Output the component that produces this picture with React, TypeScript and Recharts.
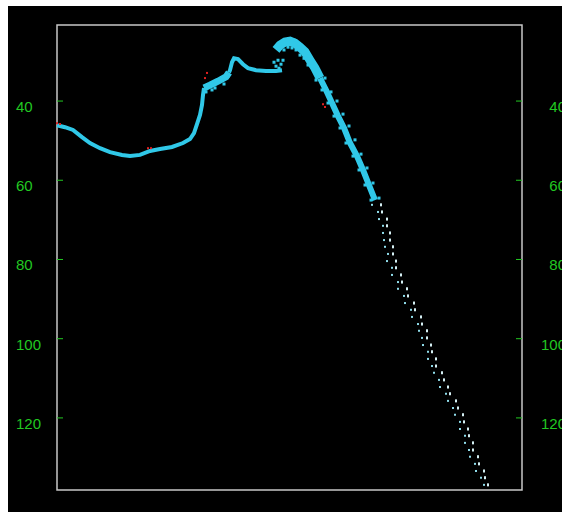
import React from 'react';
import { ScatterChart, Scatter, XAxis, YAxis, ReferenceArea } from 'recharts';

const GREEN = '#22c822';
const CYAN = '#30c8e8';
const TAIL_A = '#8fdcea';
const TAIL_B = '#d4eff3';
const RED = '#e02020';

const yTicks = [40, 60, 80, 100, 120];

// main cyan curve (left bowl, steep rise)
const mainX = [0, 8, 16, 25, 33, 43, 53, 65, 73, 83, 93, 103, 115, 126, 133, 137, 140, 143, 145, 146, 147];
const mainY = [46.1, 46.6, 47.3, 49.1, 50.6, 51.9, 52.9, 53.6, 53.9, 53.6, 52.6, 52.1, 51.6, 50.6, 49.6, 48.1, 45.8, 43.5, 41.0, 38.5, 36.7];

// shoulder band
const shoulderX = [147, 153, 161, 169, 172];
const shoulderY = [36.7, 36.0, 35.0, 33.9, 32.8];

// first peak and flat part
const flatX = [172, 173, 175, 177, 181, 186, 191, 199, 209, 219, 225];
const flatY = [32.8, 32.2, 30.2, 29.2, 29.4, 30.7, 31.7, 32.2, 32.4, 32.4, 32.2];

// second peak top
const peakX = [219, 223, 228, 233, 238, 243, 248, 253, 258, 263];
const peakY = [27.1, 25.9, 25.1, 24.9, 25.4, 26.4, 27.6, 29.7, 31.7, 34.2];

// upper descent
const descentX = [263, 269, 275, 281, 287, 293, 300, 306, 312, 318];
const descentY = [34.2, 37.2, 40.5, 43.8, 46.8, 50.6, 53.9, 57.4, 61.2, 65.0];

// scattered cyan dots
const dotX = [221, 225, 229, 233, 237, 241, 245, 231, 235, 239, 227, 243, 247, 249, 252, 255, 251, 259, 217, 221, 224, 219, 226, 222, 259, 268, 265, 274, 271, 280, 277, 286, 283, 292, 289, 298, 296, 304, 302, 310, 308, 316, 314, 322, 149, 153, 158, 163, 167, 171, 155];
const dotY = [26.6, 25.6, 24.6, 24.4, 24.6, 25.6, 26.9, 26.4, 26.6, 27.1, 27.1, 28.4, 29.2, 27.1, 28.6, 30.4, 30.9, 32.7, 30.2, 29.7, 30.7, 31.2, 29.7, 31.7, 34.7, 34.2, 37.2, 37.7, 40.5, 40.0, 43.8, 43.3, 46.8, 46.3, 50.6, 49.8, 53.9, 53.4, 57.4, 56.9, 61.2, 60.7, 65.0, 64.5, 37.7, 35.7, 36.7, 34.7, 35.7, 33.7, 37.2];

// sparse tail dots (two strands)
const tailY = [66.2, 68.0, 69.8, 71.5, 73.3, 75.1, 76.8, 78.6, 80.4, 82.1, 83.9, 85.7, 87.4, 89.2, 91.0, 92.7, 94.5, 96.3, 98.0, 99.8, 101.6, 103.3, 105.1, 106.9, 108.6, 110.4, 112.2, 113.9, 115.7, 117.5, 119.2, 121.0, 122.8, 124.5, 126.3, 128.1, 129.8, 131.6, 133.4, 135.1, 136.9];
const tailXLeft = [315, 321, 322, 326, 326, 327, 328, 331, 330, 335, 335, 341, 341, 347, 348, 354, 355, 361, 362, 365, 366, 371, 371, 375, 377, 382, 383, 389, 391, 396, 398, 403, 403, 408, 408, 412, 413, 418, 419, 424, 427];
const tailXRight = [324, 325, 330, 330, 333, 333, 336, 336, 339, 339, 344, 345, 350, 351, 357, 358, 364, 365, 370, 370, 374, 375, 379, 379, 385, 387, 391, 393, 399, 401, 406, 407, 411, 412, 416, 416, 421, 422, 427, 428, 431];

// red dots
const redX = [0, 3, 91, 94, 148, 150, 266, 268];
const redY = [45.6, 45.8, 51.9, 51.9, 34.2, 32.9, 40.8, 41.5];

const pts = (xs: number[], ys: number[]) => xs.map((x, i) => ({ x, y: ys[i] }));

const mainData = pts(mainX, mainY);
const shoulderData = pts(shoulderX, shoulderY);
const flatData = pts(flatX, flatY);
const peakData = pts(peakX, peakY);
const descentData = pts(descentX, descentY);
const dotData = pts(dotX, dotY);
const tailDataA = pts(tailXLeft, tailY);
const tailDataB = pts(tailXRight, tailY);
const redData = pts(redX, redY);

const Nothing = () => <g />;
const dot = (color: string, w: number, h: number) => (p: any) => (
  <rect x={p.cx - w / 2} y={p.cy - h / 2} width={w} height={h} fill={color} />
);

const LeftTick = (props: any) => {
  const { x, y, payload } = props;
  return (
    <g>
      <line x1={x} y1={y} x2={x + 6} y2={y} stroke={GREEN} strokeWidth={1} />
      <text x={x - 41} y={y + 11} fill={GREEN} fontSize={15} fontFamily="Liberation Sans" textAnchor="start">
        {payload.value}
      </text>
    </g>
  );
};

const RightTick = (props: any) => {
  const { x, y, payload } = props;
  return (
    <g>
      <line x1={x - 6} y1={y} x2={x} y2={y} stroke={GREEN} strokeWidth={1} />
      <text x={x + 44} y={y + 11} fill={GREEN} fontSize={15} fontFamily="Liberation Sans" textAnchor="end">
        {payload.value}
      </text>
    </g>
  );
};

const Y_DOMAIN: [number, number] = [20.8, 138.2];

export default function App() {
  return (
    <div style={{ position: 'absolute', left: 8, top: 6, width: 554, height: 506, background: '#000', overflow: 'hidden' }}>
      <ScatterChart width={554} height={506} margin={{ top: 19, right: 0, bottom: 22, left: 0 }}>
        <XAxis type="number" dataKey="x" domain={[0, 465]} hide xAxisId={0} />
        <YAxis
          yAxisId="left"
          type="number"
          dataKey="y"
          domain={Y_DOMAIN}
          reversed
          ticks={yTicks}
          width={49}
          axisLine={false}
          tickLine={false}
          tickSize={0}
          tickMargin={0}
          tick={<LeftTick />}
          allowDataOverflow
        />
        <YAxis
          yAxisId="right"
          orientation="right"
          type="number"
          dataKey="y"
          domain={Y_DOMAIN}
          reversed
          ticks={yTicks}
          width={40}
          axisLine={false}
          tickLine={false}
          tickSize={0}
          tickMargin={0}
          tick={<RightTick />}
          allowDataOverflow
        />
        <ReferenceArea xAxisId={0} yAxisId="left" x1={0} x2={465} y1={Y_DOMAIN[0]} y2={Y_DOMAIN[1]} fill="none" stroke="#c8c8c8" strokeWidth={1.5} />
        <Scatter yAxisId="left" data={mainData} line={{ stroke: CYAN, strokeWidth: 4 }} lineType="joint" shape={<Nothing />} isAnimationActive={false} />
        <Scatter yAxisId="left" data={shoulderData} line={{ stroke: CYAN, strokeWidth: 7 }} lineType="joint" shape={<Nothing />} isAnimationActive={false} />
        <Scatter yAxisId="left" data={flatData} line={{ stroke: CYAN, strokeWidth: 4 }} lineType="joint" shape={<Nothing />} isAnimationActive={false} />
        <Scatter yAxisId="left" data={peakData} line={{ stroke: CYAN, strokeWidth: 9 }} lineType="joint" shape={<Nothing />} isAnimationActive={false} />
        <Scatter yAxisId="left" data={descentData} line={{ stroke: CYAN, strokeWidth: 6 }} lineType="joint" shape={<Nothing />} isAnimationActive={false} />
        <Scatter yAxisId="left" data={dotData} shape={dot(CYAN, 3, 3)} isAnimationActive={false} />
        <Scatter yAxisId="left" data={tailDataA} shape={dot(TAIL_A, 2, 2)} isAnimationActive={false} />
        <Scatter yAxisId="left" data={tailDataB} shape={dot(TAIL_B, 2, 3)} isAnimationActive={false} />
        <Scatter yAxisId="left" data={redData} shape={dot(RED, 2, 2)} isAnimationActive={false} />
      </ScatterChart>
    </div>
  );
}
